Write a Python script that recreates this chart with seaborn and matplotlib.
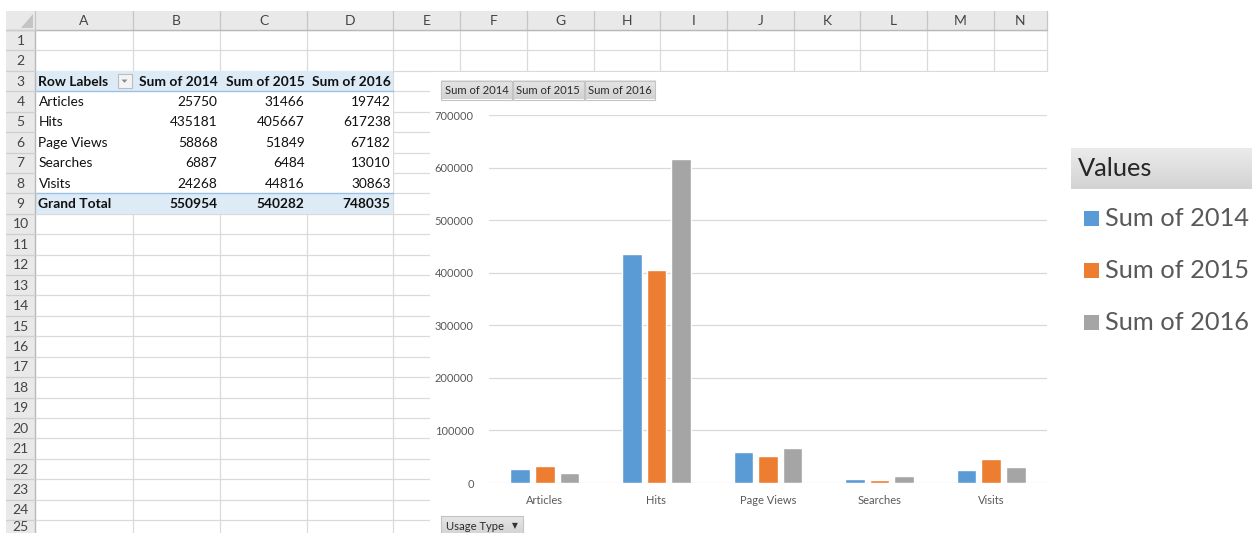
import numpy as np
import pandas as pd
import matplotlib
matplotlib.use("Agg")
import matplotlib.pyplot as plt
import seaborn as sns
from matplotlib.patches import Rectangle, Polygon
from matplotlib.colors import LinearSegmentedColormap

# ---------------- data ----------------
categories = ["Articles", "Hits", "Page Views", "Searches", "Visits"]
sum_2014 = [25750, 435181, 58868, 6887, 24268]
sum_2015 = [31466, 405667, 51849, 6484, 44816]
sum_2016 = [19742, 617238, 67182, 13010, 30863]
grand_total = [550954, 540282, 748035]
series_names = ["Sum of 2014", "Sum of 2015", "Sum of 2016"]
series_colors = ["#5B9BD5", "#ED7D31", "#A5A5A5"]
y_ticks = [0, 100000, 200000, 300000, 400000, 500000, 600000, 700000]
column_letters = ["A", "B", "C", "D", "E", "F", "G", "H", "I", "J", "K", "L", "M", "N"]
row_header_label = "Row Labels"
total_label = "Grand Total"
field_label = "Usage Type"
legend_title = "Values"

# ---------------- figure ----------------
sns.set_style("white")
plt.rcParams["font.family"] = ["Lato", "DejaVu Sans"]

W, H = 1252, 533
fig = plt.figure(figsize=(W / 100, H / 100), dpi=100)
fig.patch.set_facecolor("white")
bg = fig.add_axes([0, 0, 1, 1])
bg.set_autoscale_on(False)
bg.set_xlim(0, W)
bg.set_ylim(H, 0)
bg.axis("off")

col_edges = [6, 35, 133, 220, 307, 393, 460, 527, 594, 660, 727, 794, 860, 927, 994, 1047]
head_top, head_bot = 11, 30
row_h = 20.42
n_rows = 26


def row_top(i):
    return head_bot + (i - 1) * row_h


def row_mid(i):
    return row_top(i) + row_h / 2


def grad_rect(x0, y0, x1, y1, c_top, c_bot, edge=None, z=5):
    cmap = LinearSegmentedColormap.from_list("g", [c_top, c_bot])
    bg.imshow(np.linspace(0, 1, 64).reshape(-1, 1), cmap=cmap, extent=(x0, x1, y1, y0),
              aspect="auto", zorder=z, interpolation="bilinear")
    if edge:
        bg.add_patch(Rectangle((x0, y0), x1 - x0, y1 - y0, fill=False, ec=edge, lw=0.8, zorder=z + 0.1))


grid_c = "#DADADA"
# cell grid
for i in range(1, n_rows + 1):
    y = row_top(i)
    bg.plot([35, col_edges[-1]], [y, y], color=grid_c, lw=0.9, zorder=1)
for x in col_edges[2:]:
    bg.plot([x, x], [head_bot, H], color=grid_c, lw=0.9, zorder=1)

# headers
hdr_fc = "#E9E9E9"
bg.add_patch(Rectangle((col_edges[0], head_top), col_edges[-1] - col_edges[0], head_bot - head_top,
                       fc=hdr_fc, ec="none", zorder=2))
bg.add_patch(Rectangle((col_edges[0], head_bot), col_edges[1] - col_edges[0], H - head_bot,
                       fc=hdr_fc, ec="none", zorder=2))
for x in col_edges[1:]:
    bg.plot([x, x], [head_top, head_bot], color="#C6C6C6", lw=0.9, zorder=3)
bg.plot([col_edges[0], col_edges[-1]], [head_bot, head_bot], color="#B8B8B8", lw=1.0, zorder=3)
bg.plot([col_edges[1], col_edges[1]], [head_bot, H], color="#B8B8B8", lw=1.0, zorder=3)
for i in range(1, n_rows + 1):
    y = row_top(i)
    bg.plot([col_edges[0], col_edges[1]], [y, y], color="#CFCFCF", lw=0.9, zorder=3)
bg.add_patch(Polygon([(33, 14), (33, 28), (21, 28)], closed=True, fc="#C4C4C4", ec="none", zorder=3))

for j, letter in enumerate(column_letters):
    xc = (col_edges[j + 1] + col_edges[j + 2]) / 2
    bg.text(xc, (head_top + head_bot) / 2 + 0.5, letter, ha="center", va="center",
            fontsize=10, color="#444444", zorder=4)
for i in range(1, n_rows):
    yc = min(row_mid(i) + 0.5, H - 6)
    bg.text(20.5, yc, str(i), ha="center", va="center", fontsize=10,
            color="#444444", zorder=4)

# pivot table
pv_x0, pv_x1 = 35.5, 392.5
bg.add_patch(Rectangle((pv_x0, row_top(3)), pv_x1 - pv_x0, row_top(10) - row_top(3) - 0.5,
                       fc="white", ec="none", zorder=2))
for r in (3, 9):
    bg.add_patch(Rectangle((pv_x0, row_top(r) + 0.5), pv_x1 - pv_x0, row_h - 0.5,
                           fc="#DDEBF7", ec="none", zorder=2.5))
bg.plot([pv_x0, pv_x1], [row_top(4), row_top(4)], color="#9BC2E6", lw=1.0, zorder=3)
bg.plot([pv_x0, pv_x1], [row_top(9), row_top(9)], color="#9BC2E6", lw=1.0, zorder=3)

txt_c = "#111111"
fs_cell = 9.9
bg.text(38.5, row_mid(3) + 0.5, row_header_label, ha="left", va="center", fontsize=fs_cell,
        fontweight="bold", color=txt_c, zorder=4)
bg.add_patch(Rectangle((117.5, row_mid(3) - 7), 14, 14, fc="#F4F4F4", ec="#BDBDBD", lw=0.8, zorder=4))
bg.add_patch(Polygon([(121.5, row_mid(3) - 1.5), (127.5, row_mid(3) - 1.5), (124.5, row_mid(3) + 1.8)],
                     closed=True, fc="#8A8A8A", ec="none", zorder=5))
value_cols = [sum_2014, sum_2015, sum_2016]
for k, name in enumerate(series_names):
    xr = col_edges[k + 3] - 2
    bg.text(xr, row_mid(3) + 0.5, name, ha="right", va="center", fontsize=fs_cell,
            fontweight="bold", color=txt_c, zorder=4)
    for r, v in enumerate(value_cols[k]):
        bg.text(xr - 0.5, row_mid(4 + r) + 0.5, str(v), ha="right", va="center",
                fontsize=fs_cell, color=txt_c, zorder=4)
    bg.text(xr - 0.5, row_mid(9) + 0.5, str(grand_total[k]), ha="right", va="center",
            fontsize=fs_cell, fontweight="bold", color=txt_c, zorder=4)
for r, cat in enumerate(categories):
    bg.text(38.5, row_mid(4 + r) + 0.5, cat, ha="left", va="center", fontsize=fs_cell,
            color=txt_c, zorder=4)
bg.text(38.5, row_mid(9) + 0.5, total_label, ha="left", va="center", fontsize=fs_cell,
        fontweight="bold", color=txt_c, zorder=4)

# chart area
bg.add_patch(Rectangle((430, 72), 640, 480, fc="white", ec="none", zorder=6))
btn_edges = [440.5, 512.3, 584.3, 655.8]
for k, name in enumerate(series_names):
    x0, x1 = btn_edges[k] + 0.4, btn_edges[k + 1] - 0.4
    grad_rect(x0, 81, x1, 99.5, "#E6E6E6", "#D2D2D2", edge="#C4C4C4", z=7)
    bg.text((x0 + x1) / 2, 90.5, name, ha="center", va="center", fontsize=8.1,
            color="#2B2B2B", zorder=8)
grad_rect(440.5, 516, 523, 536, "#E6E6E6", "#D2D2D2", edge="#C4C4C4", z=7)
bg.text(445.5, 526.5, field_label, ha="left", va="center", fontsize=8.1, color="#2B2B2B", zorder=8)
bg.text(515, 526, "\u25BC", ha="center", va="center", fontsize=5.5, color="#333333", zorder=8,
        family=["DejaVu Sans"])

# legend panel
grad_rect(1071, 148, 1253, 189, "#EBEBEB", "#D3D3D3", z=7)
bg.text(1078, 169, legend_title, ha="left", va="center", fontsize=18.3, color="#262626", zorder=8)
for k, (name, c) in enumerate(zip(series_names, series_colors)):
    yc = 218 + k * 52
    bg.add_patch(Rectangle((1083.5, yc - 7.5), 15, 15, fc=c, ec="none", zorder=8))
    bg.text(1105, yc + 0.5, name, ha="left", va="center", fontsize=18.3, color="#595959", zorder=8)

bg.set_xlim(0, W)
bg.set_ylim(H, 0)

# ---------------- bar chart ----------------
df = pd.DataFrame({
    "Usage Type": categories * 3,
    "Series": [series_names[0]] * 5 + [series_names[1]] * 5 + [series_names[2]] * 5,
    "Value": sum_2014 + sum_2015 + sum_2016,
})

px_left, px_right, px_base, px_top = 489, 1047, 483, 115
ax = fig.add_axes([px_left / W, (H - px_base) / H, (px_right - px_left) / W, (px_base - px_top) / H])
ax.set_facecolor("none")
sns.barplot(data=df, x="Usage Type", y="Value", hue="Series", order=categories,
            hue_order=series_names, palette=series_colors, saturation=1, width=0.66,
            gap=0.2, errorbar=None, legend=False, ax=ax, zorder=3)
ax.set_xlim(-0.5, len(categories) - 0.5)
ax.set_ylim(0, y_ticks[-1])
ax.set_yticks(y_ticks)
ax.set_yticklabels([str(v) for v in y_ticks])
ax.grid(axis="y", color="#D9D9D9", lw=0.9)
ax.grid(axis="x", visible=False)
ax.set_axisbelow(True)
for s in ax.spines.values():
    s.set_visible(False)
ax.set_xlabel("")
ax.set_ylabel("")
ax.tick_params(axis="both", length=0, labelsize=8.0, labelcolor="#595959")
ax.tick_params(axis="y", pad=11)
ax.tick_params(axis="x", pad=8.5)
for t in ax.get_yticklabels() + ax.get_xticklabels():
    t.set_zorder(10)

fig.savefig("out.png", dpi=100, facecolor="white")
